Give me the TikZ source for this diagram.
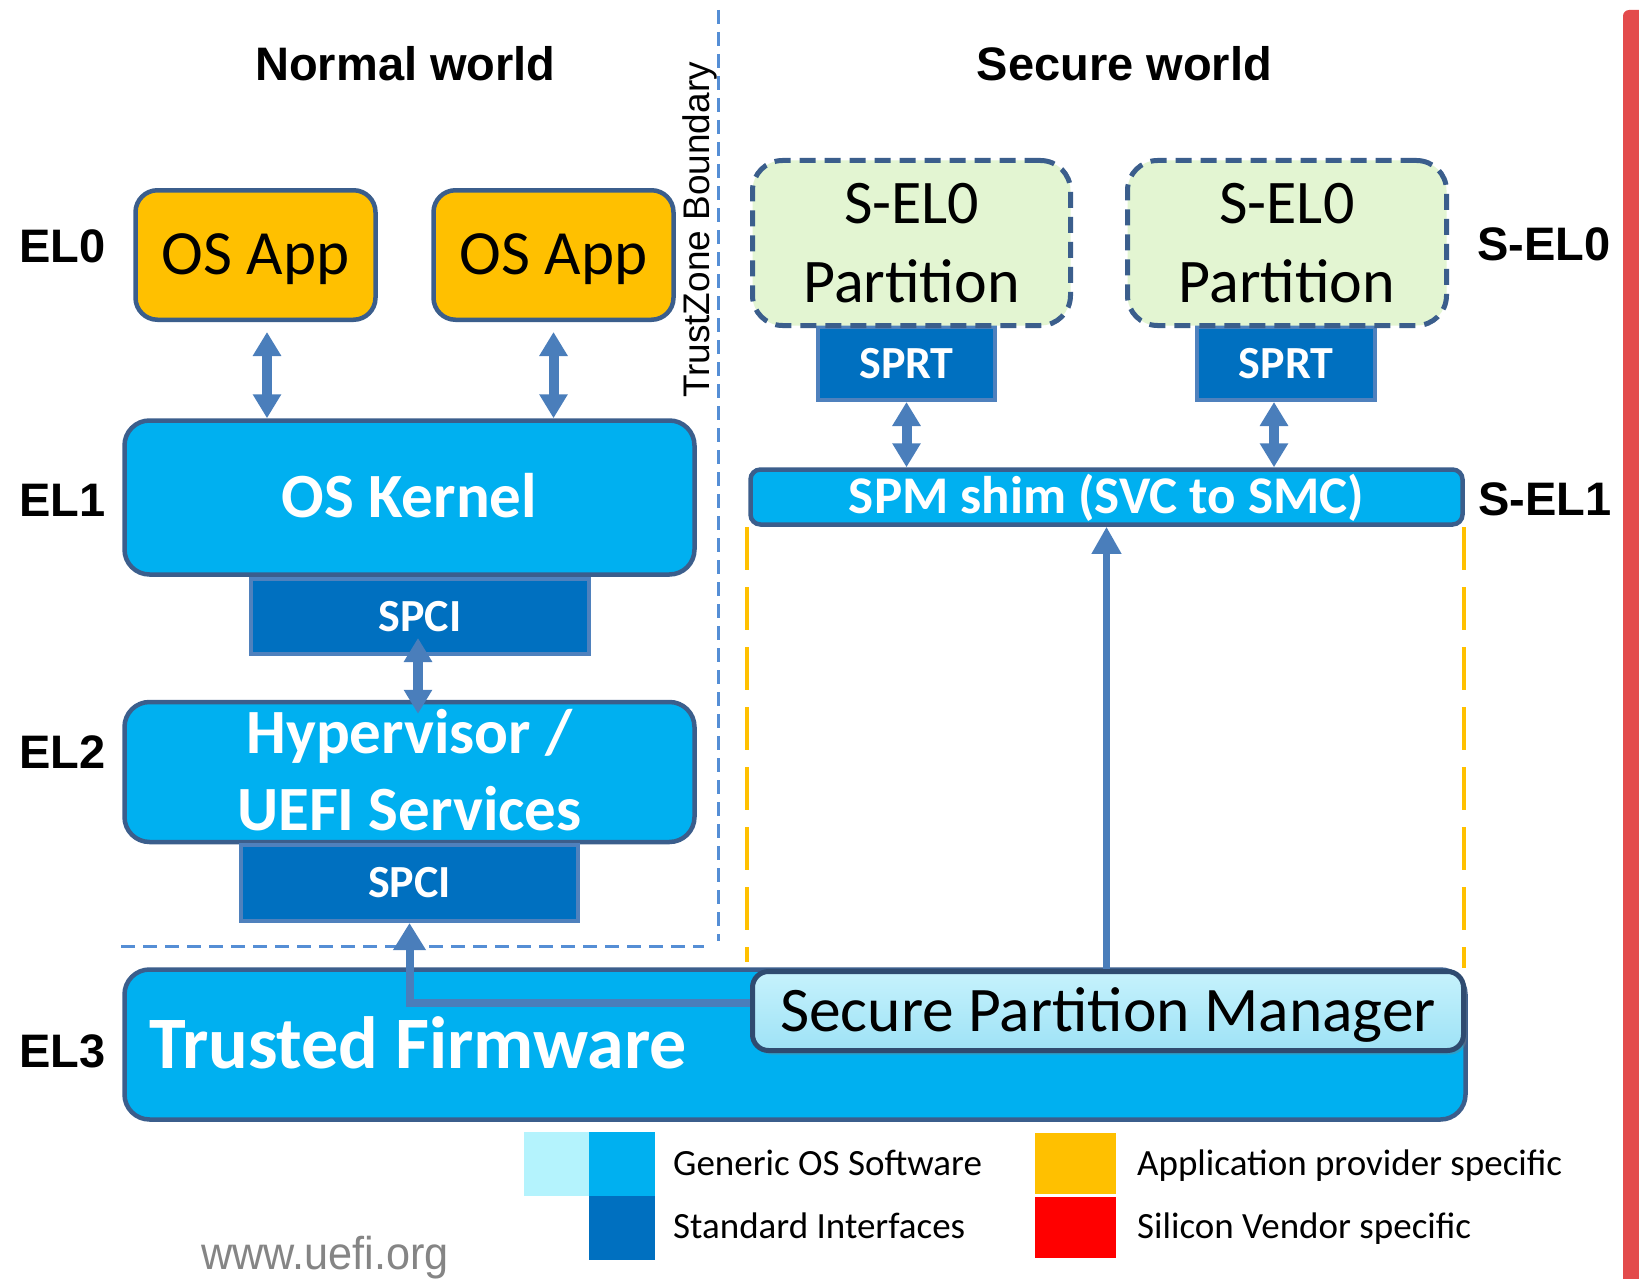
\documentclass[tikz,border=0pt]{standalone}
\usepackage{fontspec}
\setmainfont{Carlito}
\newfontfamily\arialf{Liberation Sans}
\newfontfamily\urlfont[FakeStretch=0.94]{Liberation Sans}
\usetikzlibrary{arrows.meta,shadows}
\definecolor{cyanfill}{HTML}{00B0F0}
\definecolor{stdblue}{HTML}{0070C0}
\definecolor{boxline}{HTML}{3B5E8C}
\definecolor{arrowblue}{HTML}{4A7EBB}
\definecolor{ifline}{HTML}{4F81BD}
\definecolor{appfill}{HTML}{FFC000}
\definecolor{partfill}{HTML}{E3F5D2}
\definecolor{palecyan}{HTML}{B4F3FD}
\definecolor{spmtop}{HTML}{C6F2FC}
\definecolor{spmbot}{HTML}{9EE2F6}
\definecolor{tzline}{HTML}{558ED5}
\definecolor{vendorred}{HTML}{FF0000}
\definecolor{edgered}{HTML}{E34B4C}
\definecolor{urlgrey}{HTML}{858585}
\begin{document}
\begin{tikzpicture}[x=1pt,y=-1pt,
  title/.style={font=\arialf\bfseries\fontsize{47}{50}\selectfont, anchor=base, inner sep=0pt},
  lvl/.style={font=\arialf\bfseries\fontsize{47}{50}\selectfont, anchor=base west, inner sep=0pt},
  elbox/.style={draw=boxline, line width=4.5pt, fill=cyanfill, rounded corners=25pt,
    inner sep=0pt, text=white, font=\bfseries\fontsize{63}{77}\selectfont},
  appbox/.style={draw=boxline, line width=4.5pt, fill=appfill, rounded corners=22pt,
    inner sep=0pt, font=\fontsize{63}{77}\selectfont, text height=39.8pt, text depth=0pt,
    minimum width=240pt, minimum height=129.5pt},
  partbox/.style={draw=boxline, line width=5pt, dash pattern=on 16pt off 9pt, fill=partfill,
    rounded corners=30pt, inner sep=0pt, font=\fontsize{62}{79}\selectfont, align=center,
    text height=118.2pt, text depth=0pt, minimum width=318pt, minimum height=165pt},
  ifbox/.style={draw=ifline, line width=4pt, fill=stdblue, inner sep=0pt, text=white,
    font=\bfseries\fontsize{46}{50}\selectfont, text height=29.1pt, text depth=0pt},
  dblarrow/.style={draw=arrowblue, line width=10pt,
    {Triangle[width=27pt,length=24pt]}-{Triangle[width=27pt,length=24pt]}},
  uparrow/.style={draw=arrowblue, line width=7pt, -{Triangle[width=28pt,length=27pt]}},
  larrow/.style={draw=arrowblue, line width=8pt, -{Triangle[width=31pt,length=27pt]}},
  tzdash/.style={draw=tzline, line width=3pt, dash pattern=on 14pt off 8pt},
  appdash/.style={draw=appfill, line width=4pt, dash pattern=on 43pt off 17pt},
  legsq/.style={inner sep=0pt, outer sep=0pt},
  legtext/.style={font=\fontsize{37}{40}\selectfont, anchor=base west, inner sep=0pt}
]
\useasboundingbox[fill=white] (0,0) rectangle (1639,1279);

% right-hand red edge
\fill[edgered, rounded corners=6pt] (1623,10) rectangle (1650,1290);

% headings
\node[title] (nw) at (405.5,81) {Normal world};
\node[title] (sw) at (1124.5,81) {Secure world};

% exception level labels
\node[lvl] (el0) at (19,262) {EL0};
\node[lvl] (el1) at (19,516) {EL1};
\node[lvl] (el2) at (19,768) {EL2};
\node[lvl] (el3) at (19,1067) {EL3};
\node[lvl] (sel0) at (1477,260) {S-EL0};
\node[lvl] (sel1) at (1478,515) {S-EL1};

% TrustZone boundary and EL3 separator
\draw[tzdash] (718,10) -- (718,941);
\draw[tzdash] (121,946) -- (704,946);
\node[font=\arialf\fontsize{37}{40}\selectfont, rotate=90, anchor=base, inner sep=0pt] (tz)
  at (709,230) {TrustZone Boundary};

% secure world S-EL1 extent
\draw[appdash] (747,527) -- (747,962);
\draw[appdash] (1464,527) -- (1464,968);

% normal world stack
\node[appbox] (app1) at (255.5,255) {OS App};
\node[appbox] (app2) at (553.5,255) {OS App};
\node[elbox, minimum width=570pt, minimum height=154pt, text height=39.8pt, text depth=0pt]
  (kernel) at (409.5,497.5) {OS Kernel};
\node[ifbox, minimum width=338pt, minimum height=75pt] (spci1) at (420,616.5) {SPCI};
\node[elbox, minimum width=570pt, minimum height=140pt, align=center,
  text height=116.8pt, text depth=0pt] (hyp) at (409.5,772) {Hypervisor /\\UEFI Services};
\node[ifbox, minimum width=337pt, minimum height=76pt] (spci2) at (409.5,883) {SPCI};

% secure world stack
\node[ifbox, minimum width=177pt, minimum height=73pt] (sprt1) at (906.5,363.5) {SPRT};
\node[ifbox, minimum width=178pt, minimum height=73pt] (sprt2) at (1286,363.5) {SPRT};
\node[partbox] (part1) at (911.5,243) {S-EL0\\Partition};
\node[partbox, minimum width=319pt] (part2) at (1287,243) {S-EL0\\Partition};
\node[elbox, rounded corners=10pt, minimum width=712pt, minimum height=55pt,
  font=\bfseries\fontsize{53}{60}\selectfont, text height=33.5pt, text depth=0pt]
  (shim) at (1106.5,497) {SPM shim (SVC to SMC)};

% EL3 firmware
\node[elbox, minimum width=1341pt, minimum height=150pt] (tf) at (795,1044.5) {};
\node[font=\bfseries\fontsize{74}{80}\selectfont, text=white, anchor=base west, inner sep=0pt]
  (tflabel) at (149,1068) {Trusted Firmware};
\node[draw=boxline!80!black, line width=5pt, rounded corners=16pt, top color=spmtop,
  bottom color=spmbot, minimum width=711pt, minimum height=79pt, inner sep=0pt,
  font=\fontsize{63.5}{70}\selectfont, text height=40.1pt, text depth=0pt,
  drop shadow={shadow xshift=3pt, shadow yshift=-4pt, opacity=0.35}]
  (spm) at (1108,1011) {Secure Partition Manager};

% connectors
\coordinate (a1) at ([xshift=11.5pt,yshift=-10pt]app1.south);
\draw[dblarrow] (a1) -- (a1 |- kernel.north);
\draw[dblarrow] ([yshift=-10pt]app2.south) -- (app2.south |- kernel.north);
\coordinate (c1) at ([xshift=-2pt,yshift=18pt]spci1.south);
\coordinate (c2) at (c1 |- hyp.north);
\draw[dblarrow] (c1) -- ([yshift=-14pt]c2);
\draw[dblarrow] (sprt1.south) -- (sprt1.south |- shim.north);
\coordinate (s2) at ([xshift=-12pt]sprt2.south);
\draw[dblarrow] (s2) -- (s2 |- shim.north);
\draw[uparrow] (shim.south |- spm.north) -- (shim.south);
\draw[larrow] ([yshift=8pt]spm.west) -| (spci2.south);

% legend
\node[legsq, fill=palecyan, minimum width=65pt, minimum height=64pt] (lg1) at (556.5,1164) {};
\node[legsq, fill=cyanfill, minimum width=66pt, minimum height=64pt] (lg2) at (622,1164) {};
\node[legsq, fill=stdblue, minimum width=66pt, minimum height=64pt] (lg3) at (622,1228) {};
\node[legsq, fill=appfill, minimum width=81pt, minimum height=61pt] (lg4) at (1075.5,1163.5) {};
\node[legsq, fill=vendorred, minimum width=81pt, minimum height=61pt] (lg5) at (1075.5,1227.5) {};
\node[legtext] (lt1) at (673,1175) {Generic OS Software};
\node[legtext] (lt2) at (673,1238) {Standard Interfaces};
\node[legtext] (lt3) at (1137,1175) {Application provider specific};
\node[legtext] (lt4) at (1137,1238) {Silicon Vendor specific};

% footer
\node[font=\urlfont\fontsize{46}{50}\selectfont, text=urlgrey, anchor=base west, inner sep=0pt]
  (url) at (201,1269) {www.uefi.org};
\end{tikzpicture}
\end{document}
